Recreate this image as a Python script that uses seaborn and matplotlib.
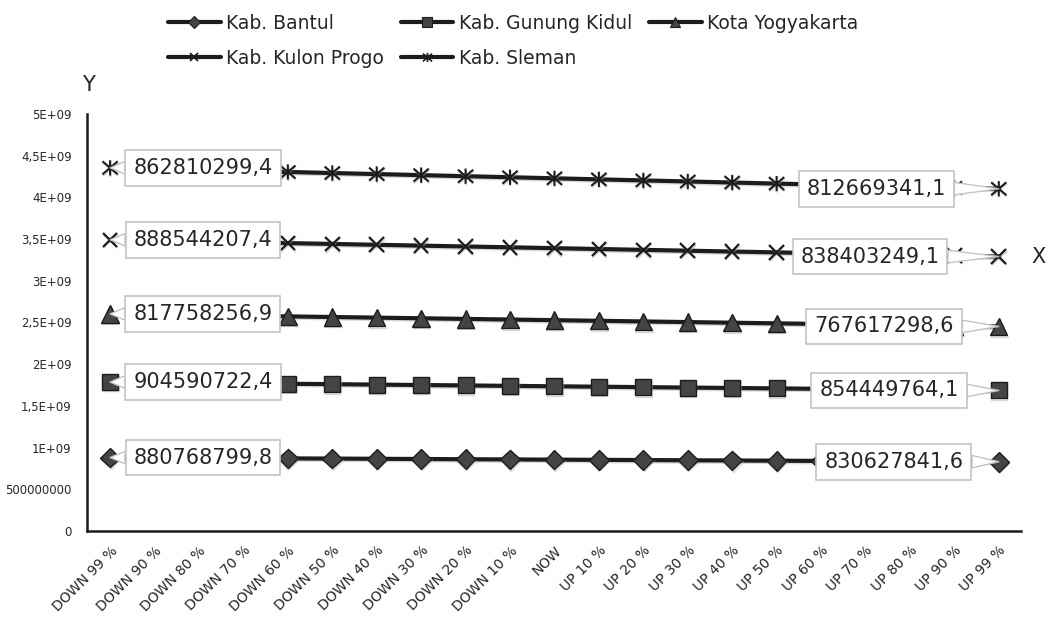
import numpy as np
import pandas as pd
import matplotlib
matplotlib.use("Agg")
import matplotlib.pyplot as plt
from matplotlib.path import Path
from matplotlib.lines import Line2D
import matplotlib.patheffects as pe
import seaborn as sns

# Scenario categories (x axis)
categories = ["DOWN 99 %", "DOWN 90 %", "DOWN 80 %", "DOWN 70 %", "DOWN 60 %",
              "DOWN 50 %", "DOWN 40 %", "DOWN 30 %", "DOWN 20 %", "DOWN 10 %",
              "NOW", "UP 10 %", "UP 20 %", "UP 30 %", "UP 40 %", "UP 50 %",
              "UP 60 %", "UP 70 %", "UP 80 %", "UP 90 %", "UP 99 %"]

series_names = ["Kab. Bantul", "Kab. Gunung Kidul", "Kota Yogyakarta",
                "Kab. Kulon Progo", "Kab. Sleman"]

bantul = [880768799.8, 878489700, 875957300, 873424900, 870892600, 868360200,
          865827800, 863295400, 860763100, 858230700, 855698300, 853165900,
          850633600, 848101200, 845568800, 843036500, 840504100, 837971700,
          835439300, 832907000, 830627841.6]
gunung_kidul = [904590722.4, 902311600, 899779200, 897246800, 894714500, 892182100,
                889649700, 887117300, 884585000, 882052600, 879520200, 876987800,
                874455500, 871923100, 869390700, 866858400, 864326000, 861793600,
                859261200, 856728900, 854449764.1]
kota_yogyakarta = [817758256.9, 815479100, 812946700, 810414400, 807882000, 805349600,
                   802817300, 800284900, 797752500, 795220100, 792687800, 790155400,
                   787623000, 785090600, 782558300, 780025900, 777493500, 774961200,
                   772428800, 769896400, 767617298.6]
kulon_progo = [888544207.4, 886265100, 883732700, 881200300, 878668000, 876135600,
               873603200, 871070800, 868538500, 866006100, 863473700, 860941300,
               858409000, 855876600, 853344200, 850811900, 848279500, 845747100,
               843214700, 840682400, 838403249.1]
sleman = [862810299.4, 860531200, 857998800, 855466400, 852934100, 850401700,
          847869300, 845336900, 842804600, 840272200, 837739800, 835207400,
          832675100, 830142700, 827610300, 825078000, 822545600, 820013200,
          817480800, 814948500, 812669341.1]

y_ticks = [0, 5e8, 1e9, 1.5e9, 2e9, 2.5e9, 3e9, 3.5e9, 4e9, 4.5e9, 5e9]
y_tick_labels = ["0", "500000000", "1E+09", "1,5E+09", "2E+09", "2,5E+09",
                 "3E+09", "3,5E+09", "4E+09", "4,5E+09", "5E+09"]

values = [bantul, gunung_kidul, kota_yogyakarta, kulon_progo, sleman]

# stacked line chart: each series sits on top of the previous ones
stacked = np.cumsum(np.array(values), axis=0)
rows = []
for name, own, top in zip(series_names, values, stacked):
    for cat, v, s in zip(categories, own, top):
        rows.append({"Scenario": cat, "Region": name, "Value": v, "Stacked": s})
df = pd.DataFrame(rows)

sns.set_theme(style="white")
plt.rcParams["font.family"] = ["DejaVu Sans"]

fig = plt.figure(figsize=(10.48, 6.23), dpi=100)
ax = fig.add_axes([87 / 1048, 1 - 531 / 623, (1021 - 87) / 1048, (531 - 114) / 623])

line_color = "#1c1c1c"
fill_color = "#444444"

# star marker: an X crossed by a vertical stroke
star_marker = Path([(-1, -0.85), (1, 0.85), (-1, 0.85), (1, -0.85), (0, -1), (0, 1)],
                   [Path.MOVETO, Path.LINETO, Path.MOVETO, Path.LINETO,
                    Path.MOVETO, Path.LINETO])

marker_styles = {
    "Kab. Bantul": dict(marker="D", markersize=10),
    "Kab. Gunung Kidul": dict(marker="s", markersize=11.5),
    "Kota Yogyakarta": dict(marker="^", markersize=12.5),
    "Kab. Kulon Progo": dict(marker="x", markersize=10.5, markeredgewidth=1.6),
    "Kab. Sleman": dict(marker=star_marker, markersize=11, markeredgewidth=1.5),
}

shadow = [pe.SimpleLineShadow(offset=(0.4, -1.0), shadow_color="#a8a8a8", alpha=0.45),
          pe.Normal()]

for name in series_names:
    sub = df[df["Region"] == name]
    st = marker_styles[name]
    sns.lineplot(data=sub, x="Scenario", y="Stacked", ax=ax, color=line_color,
                 linewidth=3.0, markerfacecolor=fill_color,
                 markeredgecolor=line_color, zorder=3,
                 markeredgewidth=st.get("markeredgewidth", 1.0),
                 marker=st["marker"], markersize=st["markersize"],
                 path_effects=shadow)

# value callouts at the first and last scenario of each series
label_x_left = 2.09
label_x_right = {"Kab. Bantul": 17.64, "Kab. Gunung Kidul": 17.53,
                 "Kota Yogyakarta": 17.42, "Kab. Kulon Progo": 17.1,
                 "Kab. Sleman": 17.24}
for name in series_names:
    sub = df[df["Region"] == name].reset_index(drop=True)
    for idx, tx in ((0, label_x_left), (len(sub) - 1, label_x_right[name])):
        v = sub.loc[idx, "Value"]
        s = sub.loc[idx, "Stacked"]
        txt = f"{v:.1f}".replace(".", ",")
        ax.annotate(txt, xy=(idx, s), xytext=(tx, s), textcoords="data",
                    ha="center", va="center", fontsize=15, color="#262626",
                    zorder=6,
                    bbox=dict(boxstyle="square,pad=0.38", fc="white",
                              ec="#c4c4c4", lw=1.2),
                    arrowprops=dict(arrowstyle="wedge,tail_width=0.6,shrink_factor=0.5",
                                    fc="white", ec="#c4c4c4", lw=1.0,
                                    shrinkA=0, shrinkB=0))

ax.set_xlim(-0.52, 20.5)
ax.set_ylim(0, 5e9)
ax.set_yticks(y_ticks)
ax.set_yticklabels(y_tick_labels, fontsize=8.5, color="#262626")
ax.set_xticks(range(len(categories)))
ax.set_xticklabels(categories, rotation=45, ha="right", rotation_mode="anchor",
                   fontsize=10, color="#262626")
ax.tick_params(axis="x", length=0, pad=9)
ax.tick_params(axis="y", length=0, pad=11)
ax.set_xlabel("")
ax.set_ylabel("")
for side in ("top", "right"):
    ax.spines[side].set_visible(False)
for side in ("left", "bottom"):
    ax.spines[side].set_color("#1c1c1c")
    ax.spines[side].set_linewidth(1.8)

fig.text(88 / 1048, 1 - 85 / 623, "Y", ha="center", va="center",
         fontsize=15, color="#262626")
fig.text(1038 / 1048, 1 - 257 / 623, "X", ha="center", va="center",
         fontsize=15, color="#262626")

# legend: column-wise fill gives rows Bantul/Gunung Kidul/Yogyakarta, Kulon Progo/Sleman
order = ["Kab. Bantul", "Kab. Kulon Progo", "Kab. Gunung Kidul",
         "Kab. Sleman", "Kota Yogyakarta"]
legend_handles = []
for n in order:
    st = marker_styles[n]
    legend_handles.append(Line2D([], [], color=line_color, linewidth=3.0,
                                 marker=st["marker"],
                                 markersize=st["markersize"] * 0.6,
                                 markerfacecolor=fill_color,
                                 markeredgecolor=line_color,
                                 markeredgewidth=st.get("markeredgewidth", 1.0) * 0.8))
fig.legend(legend_handles, order, loc="upper left",
           bbox_to_anchor=(168 / 1048, 1 - 14 / 623), ncol=3, frameon=False,
           fontsize=13.5, handlelength=2.8, handletextpad=0.3,
           columnspacing=0.9, labelspacing=0.85, borderpad=0,
           borderaxespad=0, labelcolor="#262626")

fig.savefig("out.png", dpi=100)
